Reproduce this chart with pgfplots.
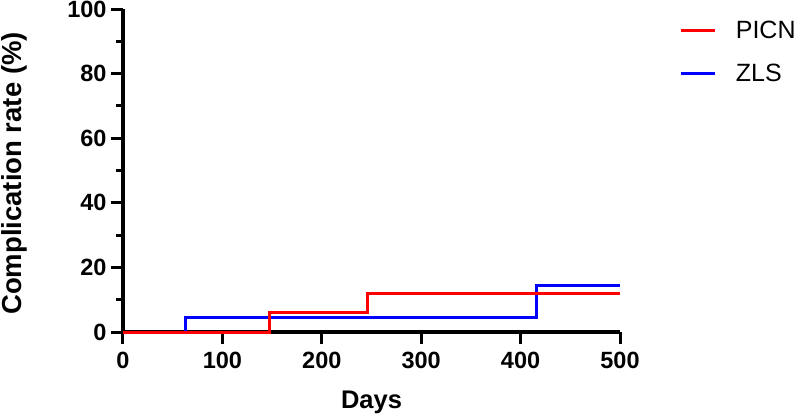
\documentclass[border=0pt]{standalone}
\usepackage{pgfplots}
\pgfplotsset{compat=1.18}
\usepackage{fontspec}
\setmainfont{Liberation Sans}
\begin{document}
\begin{tikzpicture}[x=1pt,y=1pt]
\begin{axis}[
  at={(0,0)}, anchor=origin,
  scale only axis,
  width=497pt, height=323pt,
  xmin=0, xmax=500, ymin=0, ymax=100,
  axis lines=left,
  axis line style={line width=3.2pt, -},
  every tick/.style={line width=3pt, black},
  xtick={0,100,...,500},
  ytick={0,20,...,100},
  minor ytick={10,30,50,70,90},
  tick align=outside,
  major tick length=12pt,
  minor tick length=7pt,
  /pgf/number format/assume math mode=true,
  ticklabel style={font=\fontsize{23.5}{27}\selectfont\bfseries},
  xticklabel style={yshift=-5pt},
  yticklabel style={xshift=-1pt},
  xlabel={Days}, ylabel={Complication rate (\%)},
  xlabel style={font=\fontsize{25.5}{30}\selectfont\bfseries, at={([yshift=-76pt]axis description cs:0.5,0)}, anchor=base},
  ylabel style={font=\fontsize{27.5}{32}\selectfont\bfseries, at={([xshift=-101pt,yshift=-3pt]axis description cs:0,0.5)}, anchor=base},
  clip=false,
  legend style={draw=none, fill=none, at={(1.12,0.97)}, anchor=north west,
    font=\fontsize{25}{30}\selectfont, row sep=20pt, inner sep=0pt},
  legend cell align=left,
  legend image code/.code={\draw[#1] (0pt,0pt) -- (34pt,0pt);},
]
\addlegendimage{red, line width=3pt}
\addlegendentry{\hspace*{17pt}PICN}
\addlegendimage{blue, line width=3pt}
\addlegendentry{\hspace*{17pt}ZLS}
\addplot[const plot, blue, line width=3pt, forget plot] coordinates {(0,0) (62.5,0) (62.5,4.5) (415.5,4.5) (415.5,14.3) (500,14.3)};
\addplot[const plot, red, line width=3pt, forget plot] coordinates {(0,0) (147,0) (147,6.0) (246,6.0) (246,12.0) (500,12.0)};
\end{axis}
\pgfresetboundingbox
\path (-123pt,-84pt) rectangle (674pt,332pt);
\end{tikzpicture}
\end{document}
